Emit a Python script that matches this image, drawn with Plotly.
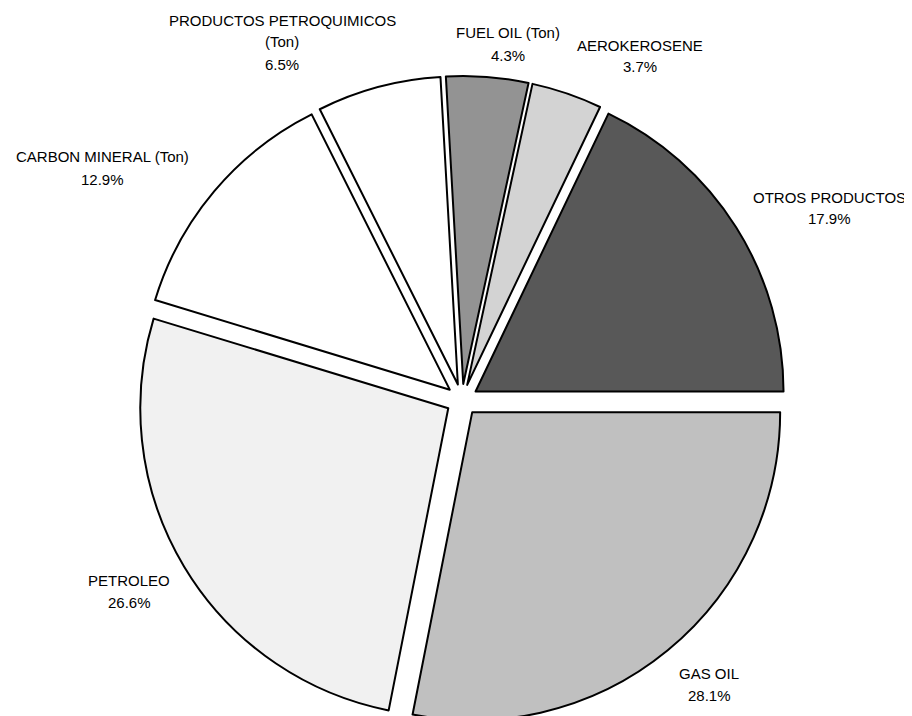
import plotly.graph_objects as go

labels = ["GAS OIL", "PETROLEO", "CARBON MINERAL (Ton)", "PRODUCTOS PETROQUIMICOS<br>(Ton)",
          "FUEL OIL (Ton)", "AEROKEROSENE", "OTROS PRODUCTOS"]
values = [28.1, 26.6, 12.9, 6.5, 4.3, 3.7, 17.9]
colors = ["#c0c0c0", "#f1f1f1", "#ffffff", "#ffffff", "#939393", "#d3d3d3", "#585858"]

# label block centres in page pixels (layout only)
label_pos = [(709, 684), (129, 591), (102, 168), (282, 42), (508, 44), (640, 56), (829, 208)]
LINE_GAP = 22

W, H = 912, 716
OFF = 8  # default body margin of the html page
cx, cy, box = 462 - OFF, 400 - OFF, 648

fig = go.Figure(go.Pie(
    labels=labels,
    values=values,
    sort=False,
    direction="clockwise",
    rotation=90,
    pull=0.052,
    automargin=False,
    marker=dict(colors=colors, line=dict(color="#000000", width=2)),
    textinfo="none",
    domain=dict(x=[(cx - box / 2) / W, (cx + box / 2) / W],
                y=[max(0, 1 - (cy + box / 2) / H), 1 - (cy - box / 2) / H]),
    showlegend=False,
    hoverinfo="label+percent",
))

total = sum(values)
for lab, val, (px, py) in zip(labels, values, label_pos):
    lines = lab.split("<br>") + [f"{val / total * 100:.1f}%"]
    n = len(lines)
    for i, line in enumerate(lines):
        ly = py + (i - (n - 1) / 2) * LINE_GAP
        fig.add_annotation(
            x=(px - OFF) / W, y=1 - (ly - OFF) / H, xref="paper", yref="paper",
            text=line,
            showarrow=False, xanchor="center", yanchor="middle", align="center",
            font=dict(family="Liberation Sans, Arial, sans-serif", size=15, color="#000000"),
        )

fig.update_layout(
    width=W, height=H,
    margin=dict(l=0, r=0, t=0, b=0, autoexpand=False),
    paper_bgcolor="#ffffff",
    plot_bgcolor="#ffffff",
)

fig.write_html("out.html")
